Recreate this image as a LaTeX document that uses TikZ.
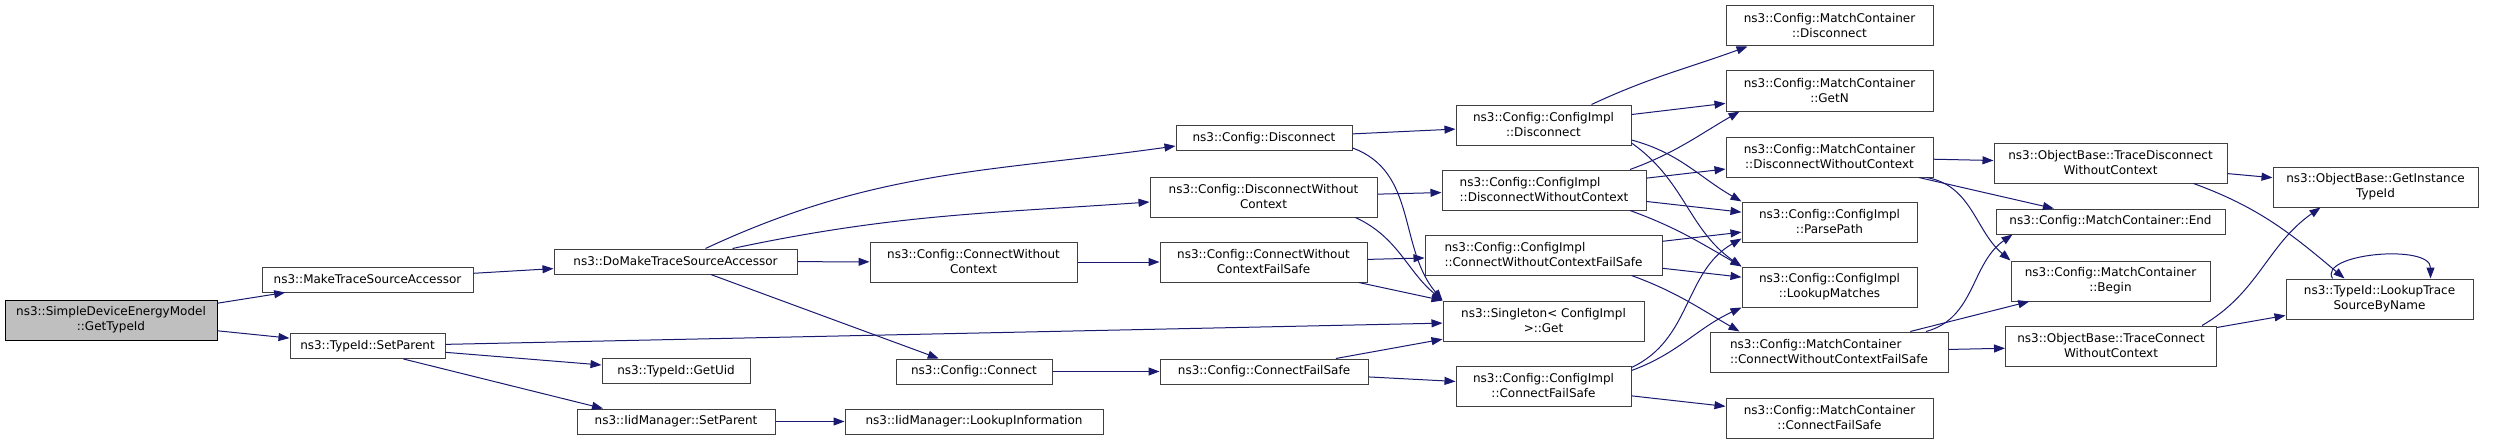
\documentclass[tikz,border=0pt]{standalone}
\usepackage{fontspec}
\setmainfont{DejaVu Sans}
\usepackage{xcolor}
\usepackage{tikz}
\usetikzlibrary{arrows.meta}

\definecolor{edgeblue}{HTML}{191970}
\definecolor{rootgray}{HTML}{BFBFBF}
\definecolor{boxline}{HTML}{404040}

\tikzset{
  fn/.style={draw=boxline, fill=white, line width=1pt, align=center, inner sep=0pt,
    font=\fontsize{12}{15}\selectfont},
  call/.style={->, draw=edgeblue, line width=1pt}
}

\begin{document}
\begin{tikzpicture}[>={Triangle[length=11pt,width=8pt]}, x=1pt, y=1pt]
      % one unit = one pixel of the doxygen graph, y runs downwards as -y
      \def\oneh{25}
      \def\twoh{40}
      \useasboundingbox (0,0) rectangle (2505,-444);

      \node[fn, draw=black, fill=rootgray, minimum width=212, minimum height=\twoh] (root) at (111,-320) {ns3::SimpleDeviceEnergyModel\\::GetTypeId};

      \node[fn, minimum width=211, minimum height=\oneh] (mkAccessor) at (367.5,-279.5) {ns3::MakeTraceSourceAccessor};
      \node[fn, minimum width=155, minimum height=\oneh] (setParent) at (367.5,-346) {ns3::TypeId::SetParent};

      \node[fn, minimum width=243, minimum height=\oneh] (doMkAccessor) at (675.5,-261.5) {ns3::DoMakeTraceSourceAccessor};
      \node[fn, minimum width=148, minimum height=\oneh] (getUid) at (676,-371) {ns3::TypeId::GetUid};
      \node[fn, minimum width=198, minimum height=\oneh] (iidSetParent) at (676,-421.5) {ns3::IidManager::SetParent};

      \node[fn, minimum width=207, minimum height=\twoh] (cfgConnNoCtx) at (973.5,-262) {ns3::Config::ConnectWithout\\Context};
      \node[fn, minimum width=156, minimum height=\oneh] (cfgConnect) at (974,-371.5) {ns3::Config::Connect};
      \node[fn, minimum width=258, minimum height=\oneh] (iidLookup) at (974,-421.5) {ns3::IidManager::LookupInformation};

      \node[fn, minimum width=176, minimum height=\oneh] (cfgDisconnect) at (1264,-138) {ns3::Config::Disconnect};
      \node[fn, minimum width=227, minimum height=\twoh] (cfgDiscNoCtx) at (1263.5,-197) {ns3::Config::DisconnectWithout\\Context};
      \node[fn, minimum width=207, minimum height=\twoh] (cfgConnNoCtxFS) at (1263.5,-262) {ns3::Config::ConnectWithout\\ContextFailSafe};
      \node[fn, minimum width=208, minimum height=\oneh] (cfgConnFS) at (1264,-371.5) {ns3::Config::ConnectFailSafe};

      \node[fn, minimum width=175, minimum height=\twoh] (implDisconnect) at (1543.5,-125) {ns3::Config::ConfigImpl\\::Disconnect};
      \node[fn, align=left, minimum width=204, minimum height=\twoh] (implDiscNoCtx) at (1544,-190) {ns3::Config::ConfigImpl\\::DisconnectWithoutContext};
      \node[fn, align=left, minimum width=237, minimum height=\twoh] (implConnNoCtxFS) at (1543.5,-255) {ns3::Config::ConfigImpl\\::ConnectWithoutContextFailSafe};
      \node[fn, minimum width=201, minimum height=\twoh] (singletonGet) at (1543.5,-321) {ns3::Singleton< ConfigImpl\\>::Get};
      \node[fn, minimum width=175, minimum height=\twoh] (implConnFS) at (1543.5,-386) {ns3::Config::ConfigImpl\\::ConnectFailSafe};

      \node[fn, minimum width=207, minimum height=\twoh] (mcDisconnect) at (1829.5,-26) {ns3::Config::MatchContainer\\::Disconnect};
      \node[fn, minimum width=207, minimum height=\twoh] (mcGetN) at (1829.5,-91) {ns3::Config::MatchContainer\\::GetN};
      \node[fn, minimum width=207, minimum height=\twoh] (mcDiscNoCtx) at (1829.5,-157) {ns3::Config::MatchContainer\\::DisconnectWithoutContext};
      \node[fn, minimum width=175, minimum height=\twoh] (parsePath) at (1829.5,-222) {ns3::Config::ConfigImpl\\::ParsePath};
      \node[fn, minimum width=175, minimum height=\twoh] (lookupMatches) at (1829.5,-287) {ns3::Config::ConfigImpl\\::LookupMatches};
      \node[fn, align=left, minimum width=238, minimum height=\twoh] (mcConnNoCtxFS) at (1829,-352) {ns3::Config::MatchContainer\\::ConnectWithoutContextFailSafe};
      \node[fn, minimum width=207, minimum height=\twoh] (mcConnFS) at (1829.5,-418) {ns3::Config::MatchContainer\\::ConnectFailSafe};

      \node[fn, minimum width=233, minimum height=\twoh] (obTraceDisc) at (2110.5,-163) {ns3::ObjectBase::TraceDisconnect\\WithoutContext};
      \node[fn, minimum width=229, minimum height=\oneh] (mcEnd) at (2110.5,-221.5) {ns3::Config::MatchContainer::End};
      \node[fn, minimum width=199, minimum height=\twoh] (mcBegin) at (2110.5,-281) {ns3::Config::MatchContainer\\::Begin};
      \node[fn, minimum width=211, minimum height=\twoh] (obTraceConn) at (2111,-346) {ns3::ObjectBase::TraceConnect\\WithoutContext};

      \node[fn, minimum width=205, minimum height=\twoh] (getInstTid) at (2375.5,-187) {ns3::ObjectBase::GetInstance\\TypeId};
      \node[fn, minimum width=187, minimum height=\twoh] (lookupTrace) at (2379.5,-299) {ns3::TypeId::LookupTrace\\SourceByName};

      % calls
      \draw[call] (root) -- (mkAccessor);
      \draw[call] (root) -- (setParent);
      \draw[call] (mkAccessor) -- (doMkAccessor);
      \draw[call] (setParent) -- (singletonGet);
      \draw[call] (setParent) -- (getUid);
      \draw[call] ([xshift=36]setParent.south) -- ([xshift=-73]iidSetParent.north);
      \draw[call] ([xshift=30]doMkAccessor.north) to[out=25,in=188] ([yshift=-8]cfgDisconnect.west);
      \draw[call] ([xshift=57]doMkAccessor.north) to[out=12,in=184] ([yshift=-5]cfgDiscNoCtx.west);
      \draw[call] (doMkAccessor) -- (cfgConnNoCtx);
      \draw[call] (doMkAccessor) -- (cfgConnect);
      \draw[call] (iidSetParent) -- (iidLookup);

      \draw[call] (cfgDisconnect) -- (implDisconnect);
      \draw[call] ([yshift=-10]cfgDisconnect.east) to[out=-20,in=130] (singletonGet.north west);
      \draw[call] (cfgDiscNoCtx) -- (implDiscNoCtx);
      \draw[call] ([xshift=92]cfgDiscNoCtx.south) to[out=-25,in=140] (singletonGet.north west);
      \draw[call] (cfgConnNoCtx) -- (cfgConnNoCtxFS);
      \draw[call] (cfgConnNoCtxFS) -- (implConnNoCtxFS);
      \draw[call] (cfgConnNoCtxFS) -- (singletonGet.north west);
      \draw[call] (cfgConnect) -- (cfgConnFS);
      \draw[call] (cfgConnFS) -- (singletonGet);
      \draw[call] (cfgConnFS) -- (implConnFS);

      \draw[call] ([xshift=48]implDisconnect.north) to[out=25,in=200] ([xshift=-82]mcDisconnect.south);
      \draw[call] (implDisconnect) -- (mcGetN);
      \draw[call] ([yshift=-15]implDisconnect.east) to[out=-15,in=150] (parsePath.north west);
      \draw[call] ([yshift=-18]implDisconnect.east) to[out=-35,in=145] (lookupMatches.north west);
      \draw[call] ([xshift=86]implDiscNoCtx.north) to[out=20,in=210] ([xshift=14]mcGetN.south west);
      \draw[call] (implDiscNoCtx) -- (mcDiscNoCtx);
      \draw[call] (implDiscNoCtx) -- (parsePath);
      \draw[call] ([xshift=86]implDiscNoCtx.south) to[out=-20,in=150] (lookupMatches.north west);
      \draw[call] (implConnNoCtxFS) -- (parsePath);
      \draw[call] (implConnNoCtxFS) -- (lookupMatches);
      \draw[call] ([xshift=88]implConnNoCtxFS.south) to[out=-20,in=150] ([xshift=30]mcConnNoCtxFS.north west);
      \draw[call] ([yshift=-2]implConnFS.north east) to[out=25,in=210] ([yshift=4]parsePath.south west);
      \draw[call] ([yshift=-5]implConnFS.north east) to[out=20,in=205] (lookupMatches.south west);
      \draw[call] (implConnFS) -- (mcConnFS);

      \draw[call] (mcDiscNoCtx) -- (obTraceDisc);
      \draw[call] (mcDiscNoCtx) -- (mcEnd);
      \draw[call] ([xshift=97]mcDiscNoCtx.south) to[out=-10,in=140] (mcBegin.north west);
      \draw[call] ([xshift=97]mcConnNoCtxFS.north) to[out=15,in=215] ([xshift=17]mcEnd.south west);
      \draw[call] (mcConnNoCtxFS) -- (mcBegin);
      \draw[call] (mcConnNoCtxFS) -- (obTraceConn);

      \draw[call] (obTraceDisc) -- (getInstTid);
      \draw[call] ([xshift=83]obTraceDisc.south) to[out=-20,in=140] ([xshift=-35]lookupTrace.north);
      \draw[call] ([xshift=91]obTraceConn.north) to[out=30,in=215] ([xshift=-55]getInstTid.south);
      \draw[call] (obTraceConn) -- (lookupTrace);
      \draw[call] ([xshift=-47]lookupTrace.north) .. controls +(-15,25) and +(0,35) .. ([xshift=51]lookupTrace.north);
\end{tikzpicture}
\end{document}
